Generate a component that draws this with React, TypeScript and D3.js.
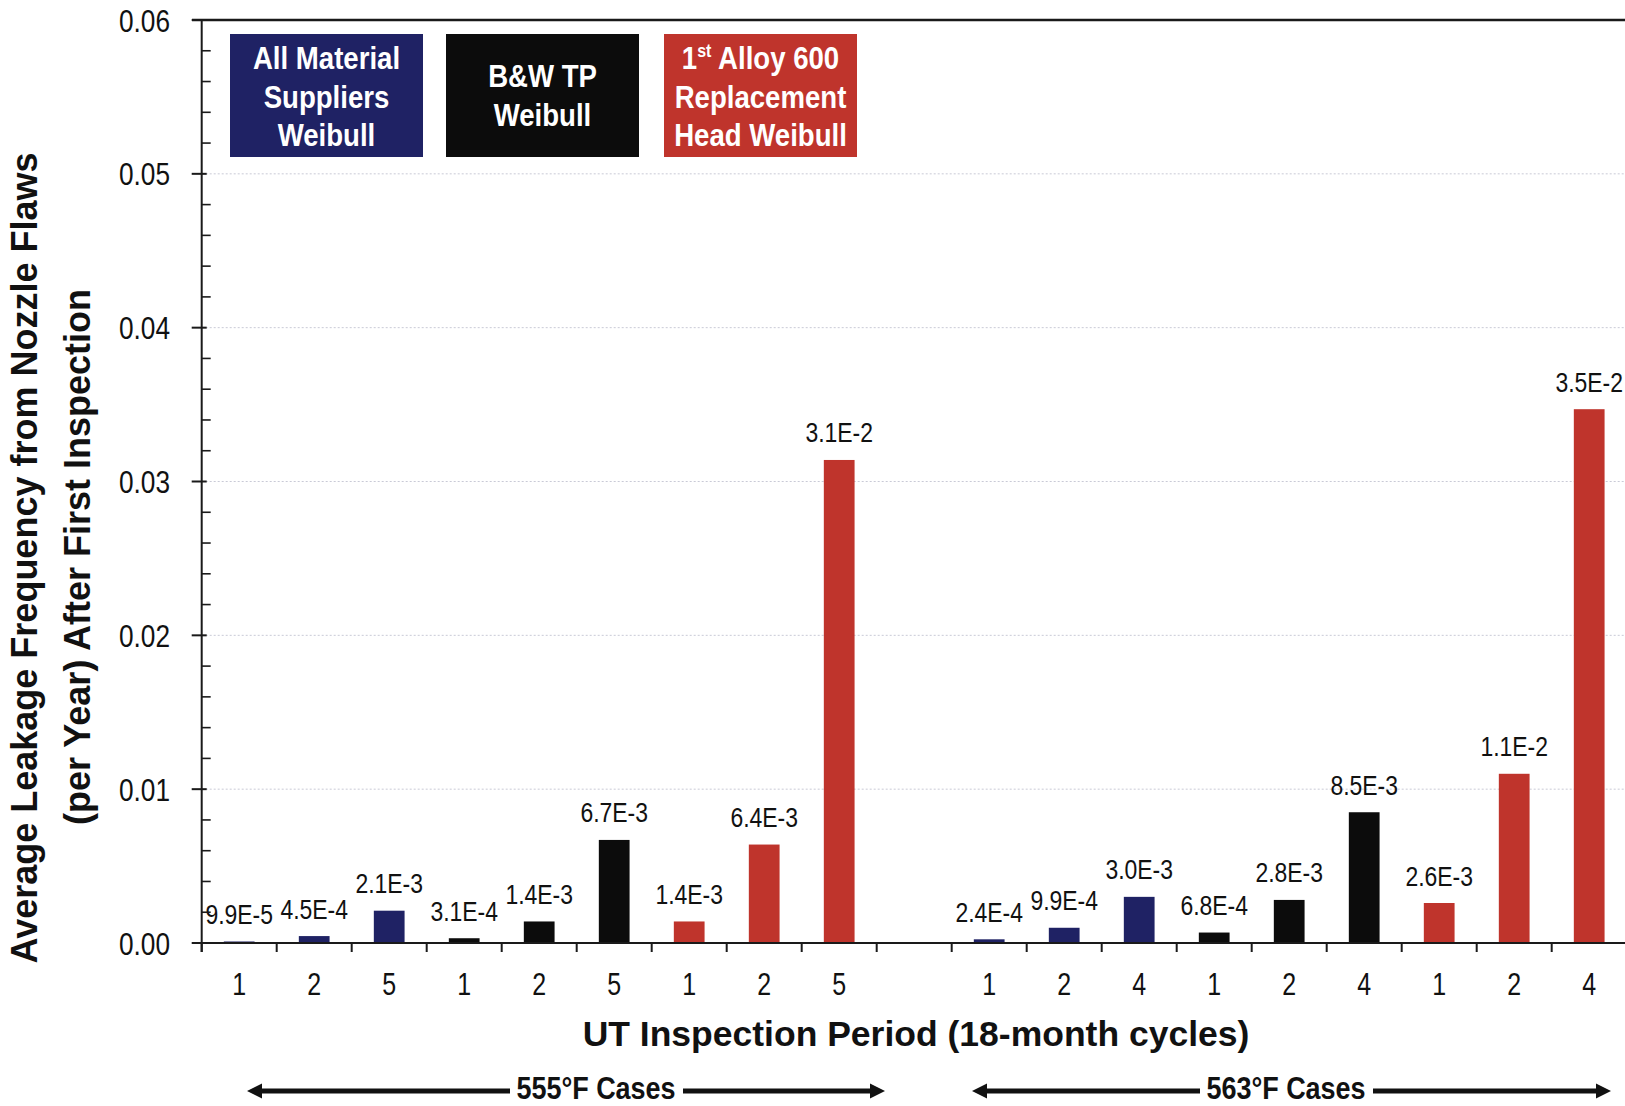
import React from "react";
import * as d3 from "d3";

// ---- data ----
const caseNames = ["555°F Cases", "563°F Cases"];
const seriesNames = ["All Material Suppliers Weibull", "B&W TP Weibull", "1st Alloy 600 Replacement Head Weibull"];
const seriesColors = ["#1f2264", "#0c0c0c", "#bf342c"];
const periods555 = ["1", "2", "5"];
const periods563 = ["1", "2", "4"];
const values555 = [
  [0.000099, 0.00045, 0.0021],
  [0.00031, 0.0014, 0.0067],
  [0.0014, 0.0064, 0.0314],
];
const values563 = [
  [0.00024, 0.00099, 0.0030],
  [0.00068, 0.0028, 0.0085],
  [0.0026, 0.011, 0.0347],
];
const labels555 = [
  ["9.9E-5", "4.5E-4", "2.1E-3"],
  ["3.1E-4", "1.4E-3", "6.7E-3"],
  ["1.4E-3", "6.4E-3", "3.1E-2"],
];
const labels563 = [
  ["2.4E-4", "9.9E-4", "3.0E-3"],
  ["6.8E-4", "2.8E-3", "8.5E-3"],
  ["2.6E-3", "1.1E-2", "3.5E-2"],
];
const yTicks = [0, 0.01, 0.02, 0.03, 0.04, 0.05, 0.06];
const xTitle = "UT Inspection Period (18-month cycles)";
const yTitle1 = "Average Leakage Frequency from Nozzle Flaws";
const yTitle2 = "(per Year) After First Inspection";

type Bar = { key: string; period: string; value: number; label: string; series: number };

function buildBars(): { bars: Bar[]; keys: string[] } {
  const bars: Bar[] = [];
  const keys: string[] = [];
  const groups = [
    { periods: periods555, values: values555, labels: labels555 },
    { periods: periods563, values: values563, labels: labels563 },
  ];
  groups.forEach((g, gi) => {
    if (gi > 0) keys.push("gap");
    g.values.forEach((vals, si) => {
      vals.forEach((v, pi) => {
        const key = `${caseNames[gi]}|${si}|${pi}`;
        keys.push(key);
        bars.push({ key, period: g.periods[pi], value: v, label: g.labels[si][pi], series: si });
      });
    });
  });
  return { bars, keys };
}

const FONT = "'Liberation Sans', Arial, sans-serif";

function NText(props: {
  x: number; y: number; sx?: number; size: number; bold?: boolean; fill?: string;
  anchor?: string; children: React.ReactNode;
}) {
  const { x, y, sx = 0.82, size, bold, fill = "#111", anchor = "middle", children } = props;
  return (
    <text
      transform={`translate(${x},${y}) scale(${sx},1)`}
      textAnchor={anchor}
      fontFamily={FONT}
      fontWeight={bold ? "bold" : "normal"}
      fontSize={size}
      fill={fill}
    >
      {children}
    </text>
  );
}

export default function App() {
  const W = 1625, H = 1106;
  const axisX = 201.7;
  const { bars, keys } = buildBars();
  const x = d3.scaleBand<string>().domain(keys).range([axisX, axisX + 75 * keys.length]).padding(0);
  const y = d3.scaleLinear().domain([0, 0.06]).range([943, 20]);
  const bw = x.bandwidth() * 0.41;
  const minor = d3.range(1, 30).filter((i) => i % 5 !== 0).map((i) => i * 0.002);

  const legend = [
    { x0: 230, lines: ["All Material", "Suppliers", "Weibull"], base: 69 },
    { x0: 446, lines: ["B&W TP", "Weibull"], base: 87 },
    { x0: 664, lines: ["1st Alloy 600", "Replacement", "Head Weibull"], base: 69 },
  ];

  const arrowY = 1091;
  const arrows = [
    { text: caseNames[0], cx: 596, l0: 247, l1: 510, r0: 683, r1: 885 },
    { text: caseNames[1], cx: 1286, l0: 972, l1: 1200, r0: 1373, r1: 1611 },
  ];

  return (
    <svg width={W} height={H} style={{ position: "absolute", left: 0, top: 0, background: "#fff" }}>
      <rect x={0} y={0} width={W} height={H} fill="#fff" />
      {/* gridlines */}
      {yTicks.slice(1, -1).map((t) => (
        <line key={"g" + t} x1={axisX} x2={W} y1={y(t)} y2={y(t)} stroke="#c9cad6" strokeWidth={1} strokeDasharray="2,2" />
      ))}
      {/* bars */}
      {bars.map((b) => (
        <rect
          key={b.key}
          x={(x(b.key) as number) + x.bandwidth() / 2 - bw / 2}
          y={y(b.value)}
          width={bw}
          height={y(0) - y(b.value)}
          fill={seriesColors[b.series]}
        />
      ))}
      {/* value labels */}
      {bars.map((b) => (
        <NText key={"l" + b.key} x={(x(b.key) as number) + x.bandwidth() / 2} y={y(b.value) - 17.5} size={28}>
          {b.label}
        </NText>
      ))}
      {/* top frame line */}
      <line x1={192} x2={W} y1={y(0.06)} y2={y(0.06)} stroke="#1a1a1a" strokeWidth={2.5} />
      {/* x axis */}
      <line x1={192} x2={W} y1={y(0)} y2={y(0)} stroke="#1a1a1a" strokeWidth={2} />
      {keys.map((k) => (
        <line key={"xt" + k} x1={x(k) as number} x2={x(k) as number} y1={y(0)} y2={y(0) + 9} stroke="#1a1a1a" strokeWidth={2} />
      ))}
      {bars.map((b) => (
        <NText key={"xl" + b.key} x={(x(b.key) as number) + x.bandwidth() / 2} y={995} size={30.5}>
          {b.period}
        </NText>
      ))}
      {/* y axis */}
      <line x1={axisX} x2={axisX} y1={y(0.06)} y2={y(0) + 9} stroke="#1a1a1a" strokeWidth={2} />
      {minor.map((t) => (
        <line key={"mt" + t} x1={axisX} x2={axisX + 9} y1={y(t)} y2={y(t)} stroke="#1a1a1a" strokeWidth={1.6} />
      ))}
      {yTicks.map((t) => (
        <g key={"yt" + t}>
          <line x1={axisX - 10} x2={axisX + 5} y1={y(t)} y2={y(t)} stroke="#1a1a1a" strokeWidth={2} />
          <NText x={170} y={y(t) + 11.5} size={32} anchor="end">
            {d3.format(".2f")(t)}
          </NText>
        </g>
      ))}
      {/* axis titles */}
      <text x={916} y={1046} textAnchor="middle" fontFamily={FONT} fontWeight="bold" fontSize={35.5} fill="#111">
        {xTitle}
      </text>
      <text transform="translate(37,558) rotate(-90)" textAnchor="middle" fontFamily={FONT} fontWeight="bold" fontSize={36} fill="#111">
        {yTitle1}
      </text>
      <text transform="translate(90,557) rotate(-90)" textAnchor="middle" fontFamily={FONT} fontWeight="bold" fontSize={36} fill="#111">
        {yTitle2}
      </text>
      {/* legend boxes */}
      {legend.map((l, i) => (
        <g key={"lg" + i}>
          <rect x={l.x0} y={34} width={193} height={123} fill={seriesColors[i]} />
          {l.lines.map((ln, j) => (
            <NText key={j} x={l.x0 + 96.5} y={l.base + j * 38.5} size={31} sx={0.89} bold fill="#fff">
              {ln.startsWith("1st") ? (
                <>
                  1<tspan fontSize={18} dy={-12}>st</tspan>
                  <tspan dy={12}>{ln.slice(3)}</tspan>
                </>
              ) : (
                ln
              )}
            </NText>
          ))}
        </g>
      ))}
      {/* temperature case arrows */}
      {arrows.map((a, i) => (
        <g key={"ar" + i}>
          <line x1={a.l0 + 12} x2={a.l1} y1={arrowY} y2={arrowY} stroke="#111" strokeWidth={5} />
          <line x1={a.r0} x2={a.r1 - 12} y1={arrowY} y2={arrowY} stroke="#111" strokeWidth={5} />
          <polygon points={`${a.l0},${arrowY} ${a.l0 + 15},${arrowY - 7.5} ${a.l0 + 15},${arrowY + 7.5}`} fill="#111" />
          <polygon points={`${a.r1},${arrowY} ${a.r1 - 15},${arrowY - 7.5} ${a.r1 - 15},${arrowY + 7.5}`} fill="#111" />
          <NText x={a.cx} y={1099} size={31} sx={0.87} bold>
            {a.text}
          </NText>
        </g>
      ))}
    </svg>
  );
}
